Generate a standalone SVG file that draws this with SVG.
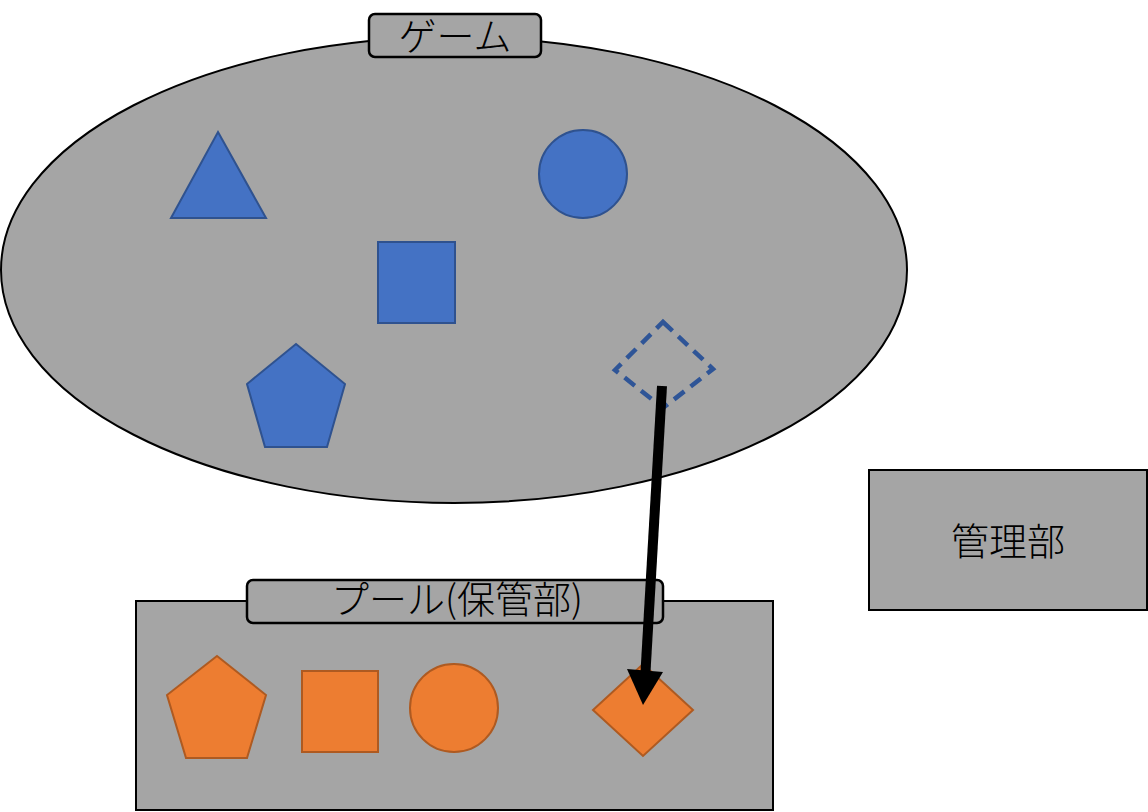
<svg xmlns="http://www.w3.org/2000/svg" width="1148" height="812" viewBox="0 0 1148 812">
<style>
.bg{fill:#a5a5a5;stroke:#000;stroke-width:2}
.lbl{fill:#a5a5a5;stroke:#000;stroke-width:2.5}
.blue{fill:#4472c4;stroke:#2f528f;stroke-width:2}
.orange{fill:#ed7d31;stroke:#ae5a21;stroke-width:2}
.t{font-family:"Noto Sans CJK JP","Noto Sans",sans-serif;font-size:38px;fill:#000;text-anchor:middle;dominant-baseline:central;font-weight:300}
</style>
<rect width="1148" height="812" fill="#fff"/>
<g id="game">
<ellipse class="bg" cx="454" cy="270" rx="453" ry="233"/>
<rect class="lbl" x="369" y="14" width="172" height="43" rx="6"/>
<text class="t" x="455" y="33">ゲーム</text>
</g>
<g id="game-triangle"><polygon class="blue" points="218,132 266,218 171,218"/></g>
<g id="game-circle"><circle class="blue" cx="583" cy="174" r="44"/></g>
<g id="game-square"><rect class="blue" x="378" y="242" width="77" height="81"/></g>
<g id="game-pentagon"><polygon class="blue" points="296,344 345,384 327,447 265,447 247,384"/></g>
<g id="game-diamond"><polygon points="663,322 713,369 663,408 615,370" fill="none" stroke="#2f5597" stroke-width="4.5" stroke-dasharray="13,8"/></g>
<g id="pool">
<rect class="bg" x="136" y="601" width="637" height="209"/>
<rect class="lbl" x="247" y="580" width="416" height="43" rx="6"/>
<text class="t" x="457" y="596">プール(保管部)</text>
</g>
<g id="pool-pentagon"><polygon class="orange" points="217,656 266,695 247,758 186,758 167,695"/></g>
<g id="pool-square"><rect class="orange" x="302" y="671" width="76" height="81"/></g>
<g id="pool-circle"><circle class="orange" cx="454" cy="708" r="44"/></g>
<g id="pool-diamond"><polygon class="orange" points="643,664 693,710 643,756 593,710"/></g>
<g id="manager">
<rect class="bg" x="869" y="470" width="278" height="140"/>
<text class="t" x="1008" y="538">管理部</text>
</g>
<g id="connectors">
<line x1="662" y1="386" x2="645.5" y2="672" stroke="#000" stroke-width="10"/>
<polygon points="627,669 663,672 643,705" fill="#000"/>
</g>
</svg>
